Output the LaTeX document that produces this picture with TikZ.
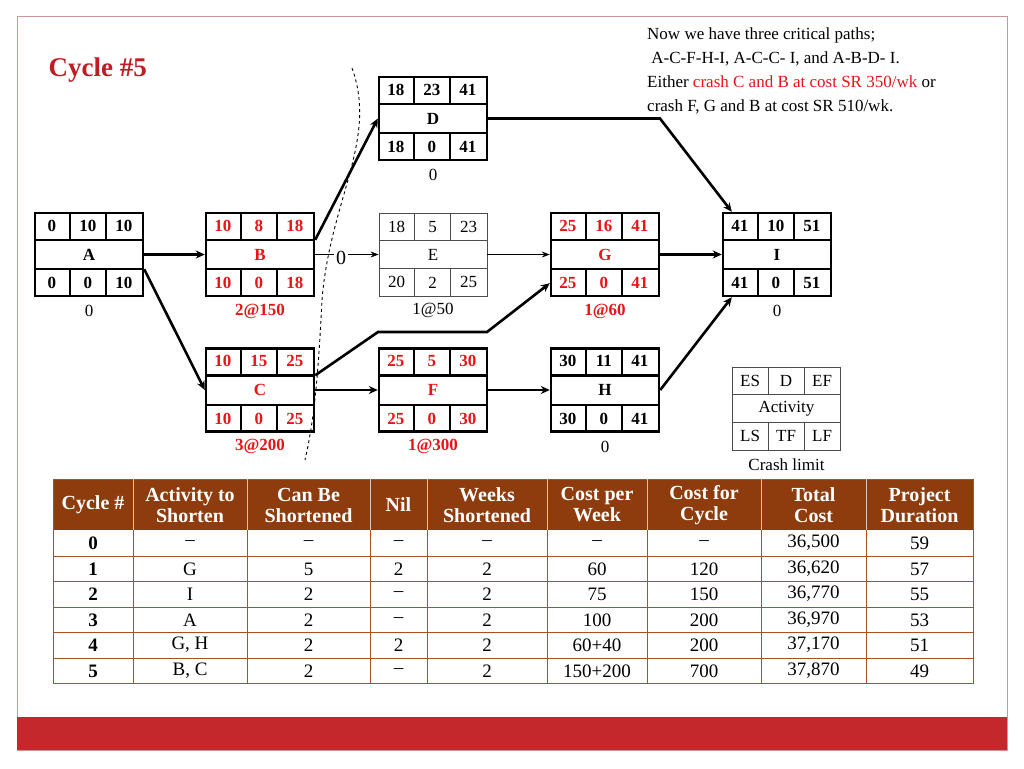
\documentclass[tikz,border=0pt]{standalone}
\usepackage{fontspec}
\setmainfont{Liberation Serif}
\usetikzlibrary{calc,arrows.meta}
\definecolor{nred}{RGB}{232,20,24}
\definecolor{cyc}{RGB}{190,30,35}
\definecolor{tbrown}{RGB}{142,60,14}
\definecolor{tline}{RGB}{170,80,30}
\definecolor{barred}{RGB}{196,40,45}
\definecolor{frame}{RGB}{205,150,150}
\newcommand\act[9]{%
  \node[actbox] (#1) at (#2) {};
  \draw[actline] ($(#1.north west)+(0,28)$) -- ($(#1.north east)+(0,28)$);
  \draw[actline] ($(#1.south west)+(0,-28)$) -- ($(#1.south east)+(0,-28)$);
  \draw[actline] ($(#1.north west)+(36,0)$) -- ++(0,28);
  \draw[actline] ($(#1.north west)+(72,0)$) -- ++(0,28);
  \draw[actline] ($(#1.south west)+(36,0)$) -- ++(0,-28);
  \draw[actline] ($(#1.south west)+(72,0)$) -- ++(0,-28);
  \node[acttext] at ($(#1.north west)+(18,14)$) {#3};
  \node[acttext] at ($(#1.north west)+(54,14)$) {#4};
  \node[acttext] at ($(#1.north west)+(90,14)$) {#5};
  \node[acttext] at (#1.center) {#6};
  \node[acttext] at ($(#1.south west)+(18,-14)$) {#7};
  \node[acttext] at ($(#1.south west)+(54,-14)$) {#8};
  \node[acttext] at ($(#1.south west)+(90,-14)$) {#9};
}
\begin{document}
\begin{tikzpicture}[x=1pt,y=-1pt,
  thickbox/.style={actbox/.style={draw,line width=2.4pt,minimum width=108pt,minimum height=83pt,inner sep=0pt},
     actline/.style={line width=2.4pt}},
  thinbox/.style={actbox/.style={draw=black!70,line width=0.8pt,minimum width=108pt,minimum height=83pt,inner sep=0pt},
     actline/.style={draw=black!70,line width=0.8pt}},
  blk/.style={acttext/.style={font=\fontsize{17}{17}\selectfont\bfseries,text=black,inner sep=0pt}},
  red/.style={acttext/.style={font=\fontsize{17}{17}\selectfont\bfseries,text=nred,inner sep=0pt}},
  plain/.style={acttext/.style={font=\fontsize{17}{17}\selectfont,text=black,inner sep=0pt}},
  lbl/.style={font=\fontsize{17}{17}\selectfont,inner sep=0pt},
  rlbl/.style={font=\fontsize{17}{17}\selectfont\bfseries,text=nred,inner sep=0pt},
  conn/.style={line width=2.6pt,-{Stealth[length=9pt,width=8pt]}},
  thinconn/.style={line width=0.8pt,-{Stealth[length=8pt,width=6pt]}},
  th/.style={font=\fontsize{20}{20}\selectfont\bfseries,text=white,align=center,inner sep=0pt},
  td/.style={font=\fontsize{19}{19}\selectfont,inner sep=0pt},
  tdb/.style={font=\fontsize{19}{19}\selectfont\bfseries,inner sep=0pt}]
\useasboundingbox (0,0) rectangle (1024,768);
\fill[white] (0,0) rectangle (1024,768);
\draw[frame,line width=1pt] (17,17) rectangle (1007,750);
\fill[barred] (17,717) rectangle (1007,750);

\node[anchor=west,font=\fontsize{27}{27}\selectfont\bfseries,text=cyc] (title) at (45,70) {Cycle \#5};
\node[anchor=north west,align=left,font=\fontsize{17}{24}\selectfont,inner sep=0pt] (note) at (647,28)
 {Now we have three critical paths;\\ \ A-C-F-H-I, A-C-C- I, and A-B-D- I.\\
  Either \textcolor{nred}{crash C and B at cost SR 350/wk} or\\ crash F, G and B at cost SR 510/wk.};

\begin{scope}[thickbox,blk]
  \act{A}{89,254.5}{0}{10}{10}{A}{0}{0}{10}
  \act{D}{433,118.5}{18}{23}{41}{D}{18}{0}{41}
  \act{I}{777,254.5}{41}{10}{51}{I}{41}{0}{51}
  \act{H}{605,390}{30}{11}{41}{H}{30}{0}{41}
\end{scope}
\begin{scope}[thickbox,red]
  \act{B}{260,254.5}{10}{8}{18}{B}{10}{0}{18}
  \act{G}{605,254.5}{25}{16}{41}{G}{25}{0}{41}
  \act{C}{260,390}{10}{15}{25}{C}{10}{0}{25}
  \act{F}{433,390}{25}{5}{30}{F}{25}{0}{30}
\end{scope}
\begin{scope}[thinbox,plain]
  \act{E}{433,254.5}{18}{5}{23}{E}{20}{2}{25}
  \act{L}{786.5,408.5}{ES}{D}{EF}{Activity}{LS}{TF}{LF}
\end{scope}

\node[lbl] (la) at ($(A.south)+(0,14)$) {0};
\node[rlbl] (lb) at ($(B.south)+(0,14)$) {2@150};
\node[lbl] (le) at ($(E.south)+(0,14)$) {1@50};
\node[rlbl] (lg) at ($(G.south)+(0,14)$) {1@60};
\node[lbl] (li) at ($(I.south)+(0,14)$) {0};
\node[lbl] (ld) at ($(D.south)+(0,14)$) {0};
\node[rlbl] (lc) at ($(C.south)+(0,14)$) {3@200};
\node[rlbl] (lf) at ($(F.south)+(0,14)$) {1@300};
\node[lbl] (lh) at ($(H.south)+(0,14)$) {0};
\node[lbl] (ll) at ($(L.south)+(0,14)$) {Crash limit};

\draw[conn] (A.east) -- (B.west);
\draw[conn] ($(A.south east)+(0,-28)$) -- (C.west);
\draw[conn] ($(B.north east)+(0,28)$) -- (D.west);
\draw[conn] (D.east) -- (660,118.5) -- ($(I.north west)+(10,0)$);
\node[font=\fontsize{20}{20}\selectfont,inner sep=2pt] (zero) at (341,258) {0};
\draw[line width=0.8pt] (B.east) -- (zero.west |- B.east);
\draw[thinconn] (zero.east |- E.west) -- (E.west);
\draw[thinconn] (E.east) -- (G.west);
\draw[conn] (G.east) -- (I.west);
\draw[conn] ($(C.north east)+(0,28)$) -- (378,332) -- (487,332) -- ($(G.south west)+(0,-14)$);
\draw[conn] (C.east) -- (F.west);
\draw[conn] (F.east) -- (H.west);
\draw[conn] (H.east) -- ($(I.south west)+(10,0)$);

\draw[dashed,line width=0.9pt] (352,68) .. controls (378,140) and (330,200) .. (322,300) .. controls (318,380) and (314,420) .. (305,460);

% table
\fill[tbrown] (53,479) rectangle (973,530);
\foreach \y in {556,581,607,632,658} \draw[tline,line width=0.8pt] (53,\y) -- (973,\y);
\draw[tline,line width=1pt] (53,479) rectangle (973,683);
\foreach \x in {133,247,370,427,547,647,761,866} {
  \draw[white!70!tbrown,line width=0.6pt] (\x,479) -- (\x,530);
  \draw[tline,line width=0.8pt] (\x,530) -- (\x,683);}
\node[th] (h1) at (93,505) {Cycle \#};
\node[th] (h2) at (190,505) {Activity to\\[1pt]Shorten};
\node[th] (h3) at (308.5,505) {Can Be\\[1pt]Shortened};
\node[th] (h4) at (398.5,505) {Nil};
\node[th] (h5) at (487,505) {Weeks\\[1pt]Shortened};
\node[th] (h6) at (597,505) {Cost per\\[1pt]Week};
\node[th] (h7) at (704,505) {Cost for\\[1pt]Cycle};
\node[th] (h8) at (813.5,505) {Total\\[1pt]Cost};
\node[th] (h9) at (919.5,505) {Project\\[1pt]Duration};
\foreach \y/\a/\b/\c/\d/\e/\f/\g/\h/\k in {
  543/0/--/--/--/--/--/--/{36,500}/59,
  569/1/G/5/2/2/60/120/{36,620}/57,
  594/2/I/2/--/2/75/150/{36,770}/55,
  620/3/A/2/--/2/100/200/{36,970}/53,
  645/4/{G, H}/2/2/2/60+40/200/{37,170}/51,
  671/5/{B, C}/2/--/2/150+200/700/{37,870}/49} {
  \node[tdb] at (93,\y) {\a};
  \node[td] at (190,\y) {\b};
  \node[td] at (308.5,\y) {\c};
  \node[td] at (398.5,\y) {\d};
  \node[td] at (487,\y) {\e};
  \node[td] at (597,\y) {\f};
  \node[td] at (704,\y) {\g};
  \node[td] at (813.5,\y) {\h};
  \node[td] at (919.5,\y) {\k};
}
\end{tikzpicture}
\end{document}
